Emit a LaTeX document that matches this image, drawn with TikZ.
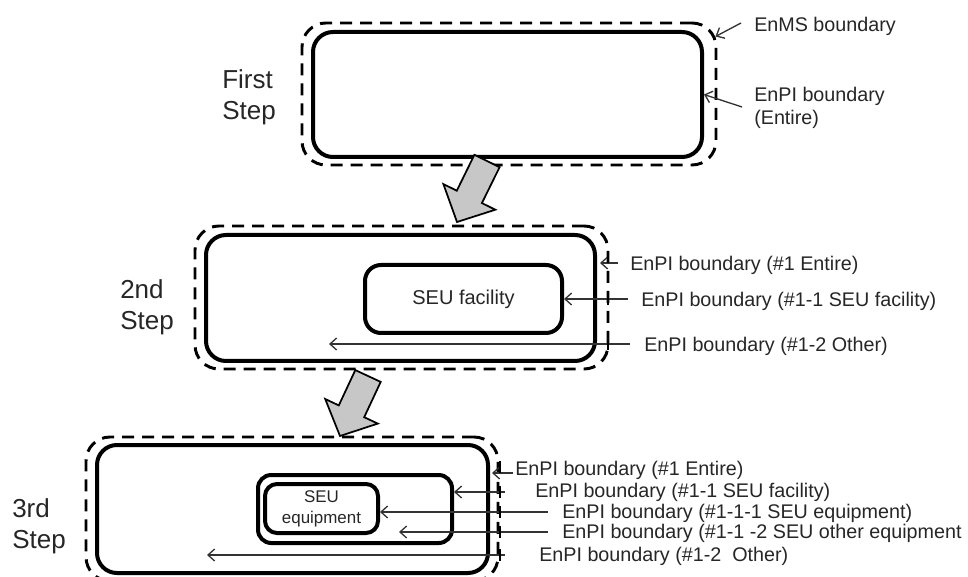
\documentclass[tikz,border=0pt]{standalone}
\usepackage{fontspec}
\setmainfont{Liberation Sans}
\usetikzlibrary{fit,arrows.meta,calc}
\begin{document}
\begin{tikzpicture}[x=0.75pt,y=-0.75pt,
  solidbox/.style={draw=black, line width=3pt, rounded corners=15pt, inner sep=0pt},
  dashbox/.style={draw=black, line width=2.2pt, dash pattern=on 9pt off 6pt, rounded corners=18pt, inner sep=0pt},
  innerbox/.style={draw=black, line width=3pt, rounded corners=10pt, inner sep=0pt, align=center, text=black!85},
  steplabel/.style={anchor=west, align=left, font=\fontsize{19.5}{23}\selectfont, inner sep=0pt, text=black!85},
  bndlabel/.style={anchor=west, align=left, font=\fontsize{14.8}{17.3}\selectfont, inner sep=0pt, text=black!85},
  pointer/.style={draw=black!80, line width=1pt, -{Straight Barb[length=5pt,width=9pt]}},
  tickmark/.style={draw=black, line width=2.2pt},
  bigarrow/.style={draw=black, line width=1.3pt, fill=black!22, line join=miter},
]
\useasboundingbox (0,0) rectangle (968,577);

% ---------- Step 1 ----------
\node[dashbox, fit={(302,23) (716,165)}] (d1) {};
\node[solidbox, fit={(313,32) (702,157)}] (s1) {};
\node[steplabel] (st1) at (222,97.5) {First\\Step};
\node[bndlabel] (l11) at (754,26) {EnMS boundary};
\node[bndlabel] (l12) at (754,108) {EnPI boundary\\(Entire)};
\coordinate (p1a) at (741,23);
\coordinate (p1b) at (742,107);
\draw[pointer] (p1a) -- ($(d1.north east)+(-2,15)$);
\draw[pointer] (p1b) -- (s1.east);

% ---------- Step 2 ----------
\node[dashbox, fit={(195,226) (608,369)}] (d2) {};
\node[solidbox, fit={(206,235) (595,361)}] (s2) {};
\node[innerbox, rounded corners=12pt, font=\fontsize{15}{18}\selectfont,
      minimum width=147.75pt, minimum height=51pt] (f2) at (463.5,299) {SEU facility};
\node[steplabel] (st2) at (120,307) {2nd\\Step};
\node[bndlabel] (l21) at (630,265) {EnPI boundary (\#1 Entire)};
\node[bndlabel] (l22) at (641,301) {EnPI boundary (\#1-1 SEU facility)};
\node[bndlabel] (l23) at (644,346) {EnPI boundary (\#1-2 Other)};
\coordinate (p2a) at (618,263);
\coordinate (p2b) at (628,299);
\coordinate (p2c) at (630,344);
\coordinate (o2c) at (329,344);
\draw[pointer] (p2a) -- ($(s2.east |- p2a)+(3,0)$);
\draw[pointer] (p2b) -- (f2.east |- p2b);
\draw[pointer] (p2c) -- (o2c);
\draw[tickmark] (608,253) -- (608,263);
\draw[tickmark] (608,293) -- (608,305);
\draw[tickmark] (608,338) -- (608,350);

% ---------- Step 3 ----------
\node[dashbox, fit={(86,437) (498,581)}] (d3) {};
\node[solidbox, fit={(97,445) (488,573)}] (s3) {};
\node[innerbox, fit={(258,475) (452,543)}] (f3) {};
\node[innerbox, rounded corners=9pt, font=\fontsize{12.7}{15.7}\selectfont,
      minimum width=84.75pt, minimum height=36.75pt] (e3) at (321.5,508.5) {SEU\\equipment};
\node[steplabel] (st3) at (12,526) {3rd\\Step};
\node[bndlabel] (l31) at (515,470) {EnPI boundary (\#1 Entire)};
\node[bndlabel] (l32) at (535,492) {EnPI boundary (\#1-1 SEU facility)};
\node[bndlabel] (l33) at (562,513) {EnPI boundary (\#1-1-1 SEU equipment)};
\node[bndlabel] (l34) at (562,533) {EnPI boundary (\#1-1 -2 SEU other equipment};
\node[bndlabel] (l35) at (539,556) {EnPI boundary (\#1-2\ \ Other)};
\coordinate (p3a) at (513,473);
\coordinate (p3b) at (505,492);
\coordinate (p3c) at (548,512);
\coordinate (p3d) at (548,532);
\coordinate (p3e) at (505,555);
\coordinate (o3d) at (399,532);
\coordinate (o3e) at (207,555);
\draw[pointer] (p3a) -- ($(s3.east |- p3a)+(2,0)$);
\draw[pointer] (p3b) -- (f3.east |- p3b);
\draw[pointer] (p3c) -- (e3.east |- p3c);
\draw[pointer] (p3d) -- (o3d);
\draw[pointer] (p3e) -- (o3e);
\draw[tickmark] (500,461) -- (500,473);
\draw[tickmark] (500,486) -- (500,498);
\draw[tickmark] (500,506) -- (500,518);
\draw[tickmark] (500,526) -- (500,538);
\draw[tickmark] (500,549) -- (500,561);

% ---------- block arrows between steps ----------
\draw[bigarrow] (474.4,154.8) -- (499.6,167.2) -- (481.9,203.1) -- (495.4,209.7)
  -- (457,222) -- (443.4,184.1) -- (456.8,190.7) -- cycle;
\draw[bigarrow] (355.3,370.1) -- (380.7,381.9) -- (364.2,417.2) -- (377.8,423.6)
  -- (340,436) -- (325.2,399.0) -- (338.8,405.4) -- cycle;
\end{tikzpicture}
\end{document}
